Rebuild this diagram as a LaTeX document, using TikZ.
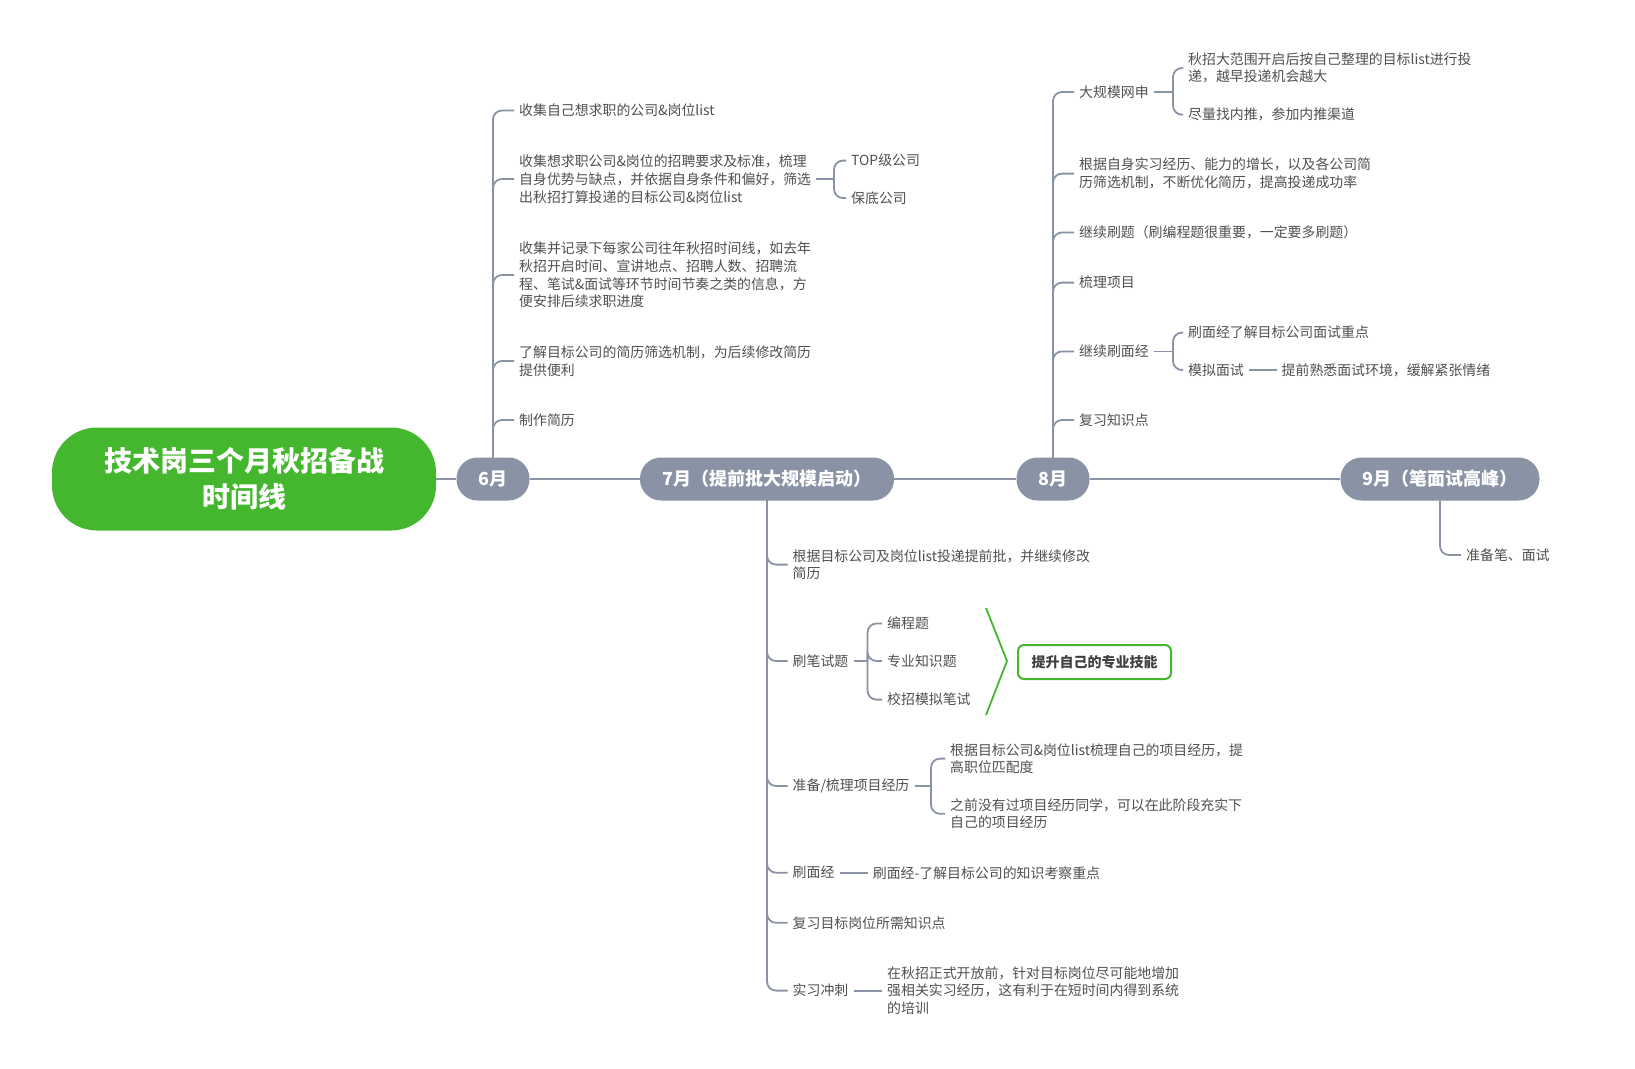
\documentclass[tikz,border=0pt]{standalone}
\usepackage{fontspec}
\setmainfont{Noto Sans CJK SC}
\usepackage{tikz}
\usetikzlibrary{positioning}
\definecolor{RootGreen}{RGB}{68, 183, 46}
\definecolor{MonthGray}{RGB}{138, 147, 165}
\definecolor{TextGray}{RGB}{80, 80, 80}

\begin{document}
\begin{tikzpicture}[x=1pt, y=-1pt,
    month/.style={draw=none, fill=MonthGray, rounded corners=21pt, minimum height=43pt,
      text=white, font=\fontsize{18}{20}\selectfont\bfseries, inner sep=0pt},
    item/.style={anchor=west, inner xsep=5pt, inner ysep=2pt, align=left, text=TextGray,
      font=\fontsize{13.9}{17.7}\selectfont},
    branch/.style={draw=MonthGray, line width=1.8pt, rounded corners=9pt},
    timeline/.style={draw=MonthGray, line width=2pt}]
    \useasboundingbox[fill=white] (0,0) rectangle (1635,1068);

    % Root and month nodes
    \node[fill=RootGreen, rounded corners=45pt, minimum width=384pt, minimum height=103pt,
      text=white, align=center, font=\fontsize{28}{36.5}\selectfont\bfseries] (root) at (244,479)
      {技术岗三个月秋招备战\\时间线};
    \node[month, minimum width=73pt] (m6) at (493,479) {6月};
    \node[month, minimum width=254pt] (m7) at (767,479) {7月（提前批大规模启动）};
    \node[month, minimum width=73pt] (m8) at (1053,479) {8月};
    \node[month, minimum width=199pt] (m9) at (1440,479) {9月（笔面试高峰）};

    % Timeline
    \draw[timeline] (root.east) -- (m6.west);
    \draw[timeline] (m6.east) -- (m7.west);
    \draw[timeline] (m7.east) -- (m8.west);
    \draw[timeline] (m8.east) -- (m9.west);

    % June
    \node[item] (c61) at (514,110.5) {收集自己想求职的公司\&岗位list};
    \node[item] (c62) at (514,179) {收集想求职公司\&岗位的招聘要求及标准，梳理\\自身优势与缺点，并依据自身条件和偏好，筛选\\出秋招打算投递的目标公司\&岗位list};
    \node[item] (c62a) at (846,160.6) {TOP级公司};
    \node[item] (c62b) at (846,198) {保底公司};
    \node[item] (c63) at (514,275) {收集并记录下每家公司往年秋招时间线，如去年\\秋招开启时间、宣讲地点、招聘人数、招聘流\\程、笔试\&面试等环节时间节奏之类的信息，方\\便安排后续求职进度};
    \node[item] (c64) at (514,361) {了解目标公司的简历筛选机制，为后续修改简历\\提供便利};
    \node[item] (c65) at (514,420) {制作简历};
    \coordinate (b62) at (834,179);

    \foreach \c in {c61,c62,c63,c64,c65}
      \draw[branch] (m6.north) |- (\c.west);
    \draw[branch] (c62.east) -- (b62);
    \foreach \c in {c62a,c62b}
      \draw[branch] (b62) |- (\c.west);

    % July
    \node[item] (c71) at (787.5,564.6) {根据目标公司及岗位list投递提前批，并继续修改\\简历};
    \node[item] (c72) at (787.5,661) {刷笔试题};
    \node[item] (c72a) at (882,623.5) {编程题};
    \node[item] (c72b) at (882,661) {专业知识题};
    \node[item] (c72c) at (882,699.6) {校招模拟笔试};
    \node[draw=RootGreen, line width=2pt, rounded corners=6pt, fill=white, minimum width=153pt,
      minimum height=34pt, text=TextGray!80!black, font=\fontsize{14}{17}\selectfont\bfseries] (goal)
      at (1094.5,662) {提升自己的专业技能};
    \node[item] (c73) at (787.5,786) {准备/梳理项目经历};
    \node[item] (c73a) at (945,758.6) {根据目标公司\&岗位list梳理自己的项目经历，提\\高职位匹配度};
    \node[item] (c73b) at (945,813.8) {之前没有过项目经历同学，可以在此阶段充实下\\自己的项目经历};
    \node[item] (c74) at (787.5,872.7) {刷面经};
    \node[item] (c74a) at (867.7,872.7) {刷面经-了解目标公司的知识考察重点};
    \node[item] (c75) at (787.5,922.8) {复习目标岗位所需知识点};
    \node[item] (c76) at (787.5,990.6) {实习冲刺};
    \node[item] (c76a) at (882,990.6) {在秋招正式开放前，针对目标岗位尽可能地增加\\强相关实习经历，这有利于在短时间内得到系统\\的培训};
    \coordinate (b72) at (867.5,661);
    \coordinate (b73) at (931,786);

    \foreach \c in {c71,c72,c73,c74,c75,c76}
      \draw[branch] (m7.south) |- (\c.west);
    \draw[branch] (c72.east) -- (b72);
    \foreach \c in {c72a,c72b,c72c}
      \draw[branch] (b72) |- (\c.west);
    \draw[branch] (c73.east) -- (b73);
    \foreach \c in {c73a,c73b}
      \draw[branch] (b73) |- (\c.west);
    \draw[branch] (c74.east) -- (c74a.west);
    \draw[branch] (c76.east) -- (c76a.west);

    % Summary brace
    \coordinate (g1) at (986,608);
    \coordinate (g2) at (1007,661);
    \coordinate (g3) at (986,715);
    \draw[RootGreen, line width=1.8pt] (g1) -- (g2) -- (g3);

    % August
    \node[item] (c81) at (1074,92) {大规模网申};
    \node[item] (c81a) at (1183,68) {秋招大范围开启后按自己整理的目标list进行投\\递，越早投递机会越大};
    \node[item] (c81b) at (1183,114.7) {尽量找内推，参加内推渠道};
    \node[item] (c82) at (1074,173.6) {根据自身实习经历、能力的增长，以及各公司简\\历筛选机制，不断优化简历，提高投递成功率};
    \node[item] (c83) at (1074,232.5) {继续刷题（刷编程题很重要，一定要多刷题）};
    \node[item] (c84) at (1074,282.6) {梳理项目};
    \node[item] (c85) at (1074,351.4) {继续刷面经};
    \node[item] (c85a) at (1183,332.6) {刷面经了解目标公司面试重点};
    \node[item] (c85b) at (1183,370) {模拟面试};
    \node[item] (c85c) at (1276.5,370) {提前熟悉面试环境，缓解紧张情绪};
    \node[item] (c86) at (1074,420) {复习知识点};
    \coordinate (b81) at (1173,92);
    \coordinate (b85) at (1173,351.4);

    \foreach \c in {c81,c82,c83,c84,c85,c86}
      \draw[branch] (m8.north) |- (\c.west);
    \draw[branch] (c81.east) -- (b81);
    \foreach \c in {c81a,c81b}
      \draw[branch] (b81) |- (\c.west);
    \draw[branch] (c85.east) -- (b85);
    \foreach \c in {c85a,c85b}
      \draw[branch] (b85) |- (\c.west);
    \draw[branch] (c85b.east) -- (c85c.west);

    % September
    \node[item] (c91) at (1461,555) {准备笔、面试};
    \draw[branch] (m9.south) |- (c91.west);
  \end{tikzpicture}
\end{document}
